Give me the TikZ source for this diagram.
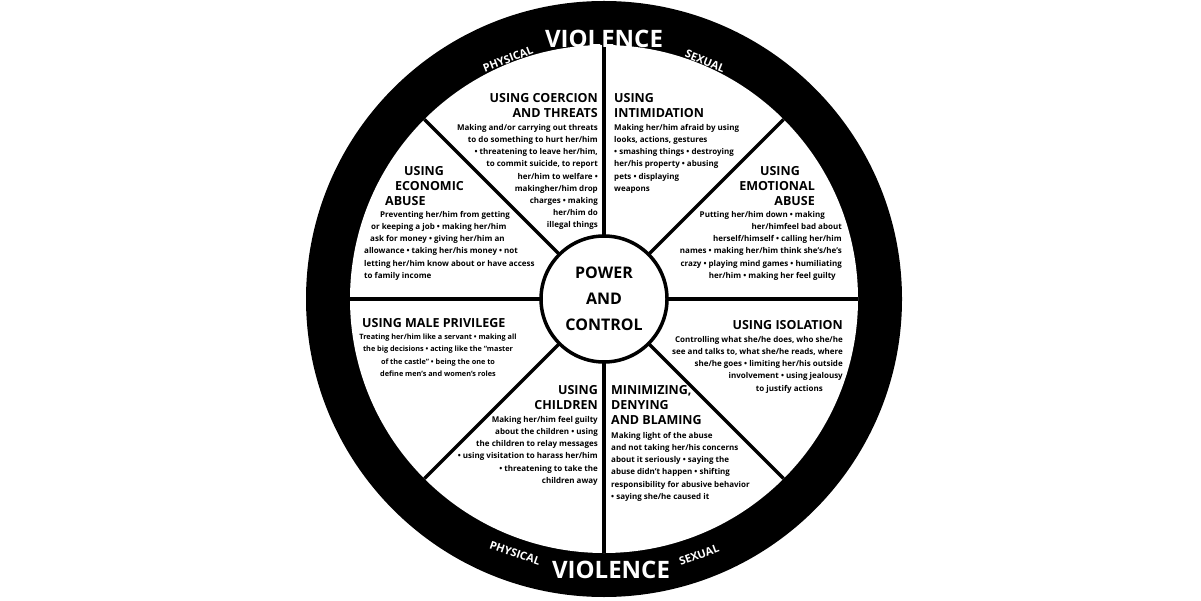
\documentclass[tikz,border=0pt]{standalone}
\usepackage{fontspec}
\setmainfont{Open Sans}
\begin{document}
\begin{tikzpicture}[x=1pt,y=-1pt,
  ttl/.style={font=\bfseries\fontsize{12.5}{15}\selectfont,inner sep=0pt},
  bdy/.style={font=\bfseries\fontsize{8}{12.2}\selectfont,inner sep=0pt},
  ring/.style={text=white,font=\bfseries,inner sep=0pt}]
\useasboundingbox (0,0) rectangle (1201,601);
\coordinate (c) at (604,299);
\fill[black] (c) circle[radius=298];
\fill[white] (c) circle[radius=254];
\foreach \a in {0,45,...,315}{\draw[line width=3.5pt] (c) -- ++(\a:-254);}
\node[circle,draw,line width=3.5pt,fill=white,minimum size=126pt,inner sep=0pt,
  font=\bfseries\fontsize{16}{26}\selectfont,align=center] (pc) at (c) {POWER\\AND\\CONTROL};
% ring text
\node[ring,font=\bfseries\fontsize{24}{24}\selectfont] (v1) at (604,39) {VIOLENCE};
\node[ring,font=\bfseries\fontsize{11}{11}\selectfont,rotate=21] (p1) at (508,59) {PHYSICAL};
\node[ring,font=\bfseries\fontsize{11}{11}\selectfont,rotate=-22] (s1) at (705,61) {SEXUAL};
\node[ring,font=\bfseries\fontsize{24}{24}\selectfont] (v2) at (611,570) {VIOLENCE};
\node[ring,font=\bfseries\fontsize{11}{11}\selectfont,rotate=-19] (p2) at (515,553) {PHYSICAL};
\node[ring,font=\bfseries\fontsize{11}{11}\selectfont,rotate=20] (s2) at (699,555) {SEXUAL};
% coercion
\node[ttl,align=right,anchor=north east] (t1) at (598,93) {USING COERCION\\AND THREATS};
\node[bdy,align=right,anchor=north east] (b1) at (598,124) {Making and/or carrying out threats\\to do something to hurt her/him\\• threatening to leave her/him,\\to commit suicide, to report\\her/him to welfare •\\makingher/him drop\\charges • making\\her/him do\\illegal things};
% intimidation
\node[ttl,align=left,anchor=north west] (t2) at (614,93) {USING\\INTIMIDATION};
\node[bdy,align=left,anchor=north west] (b2) at (614,124) {Making her/him afraid by using\\looks, actions, gestures\\• smashing things • destroying\\her/his property • abusing\\pets • displaying\\weapons};
% economic
\node[ttl,align=left,anchor=north west] (t3) at (385,166) {\hspace*{19pt}USING\\\hspace*{10pt}ECONOMIC\\ABUSE};
\node[bdy,align=left,anchor=north west] (b3) at (364,211) {\hspace*{16pt}Preventing her/him from getting\\\hspace*{7pt}or keeping a job • making her/him\\\hspace*{6pt}ask for money • giving her/him an\\allowance • taking her/his money • not\\letting her/him know about or have access\\to family income};
% emotional
\node[ttl,align=right,anchor=north east] (t4) at (815,166) {USING\hspace*{15pt}\\EMOTIONAL\hspace*{5pt}\\ABUSE};
\node[bdy,align=right,anchor=north east] (b4) at (842,211) {Putting her/him down • making\hspace*{17pt}\\her/himfeel bad about\hspace*{19pt}\\herself/himself • calling her/him\hspace*{6pt}\\names • making her/him think she's/he's\\crazy • playing mind games • humiliating\\her/him • making her feel guilty\hspace*{6pt}};
% male privilege
\node[ttl,anchor=north west] (t5) at (362,318) {USING MALE PRIVILEGE};
\node[bdy,font=\bfseries\fontsize{7.3}{12.2}\selectfont,align=center,anchor=north] (b5) at (438,334) {Treating her/him like a servant • making all\\the big decisions • acting like the ``master\\of the castle'' • being the one to\\define men's and women's roles};
% isolation
\node[ttl,anchor=north east] (t6) at (843,320) {USING ISOLATION};
\node[bdy,align=right,anchor=north east] (b6) at (843,336) {Controlling what she/he does, who she/he\\see and talks to, what she/he reads, where\\she/he goes • limiting her/his outside\\involvement • using jealousy\\to justify actions\hspace*{20pt}};
% children
\node[ttl,align=right,anchor=north east] (t7) at (598,385) {USING\\CHILDREN};
\node[bdy,align=right,anchor=north east] (b7) at (598,416) {Making her/him feel guilty\\about the children • using\\the children to relay messages\\• using visitation to harass her/him\\• threatening to take the\\children away};
% minimizing
\node[ttl,align=left,anchor=north west] (t8) at (611,385) {MINIMIZING,\\DENYING\\AND BLAMING};
\node[bdy,align=left,anchor=north west] (b8) at (611,432) {Making light of the abuse\\and not taking her/his concerns\\about it seriously • saying the\\abuse didn't happen • shifting\\responsibility for abusive behavior\\• saying she/he caused it};
\end{tikzpicture}
\end{document}
